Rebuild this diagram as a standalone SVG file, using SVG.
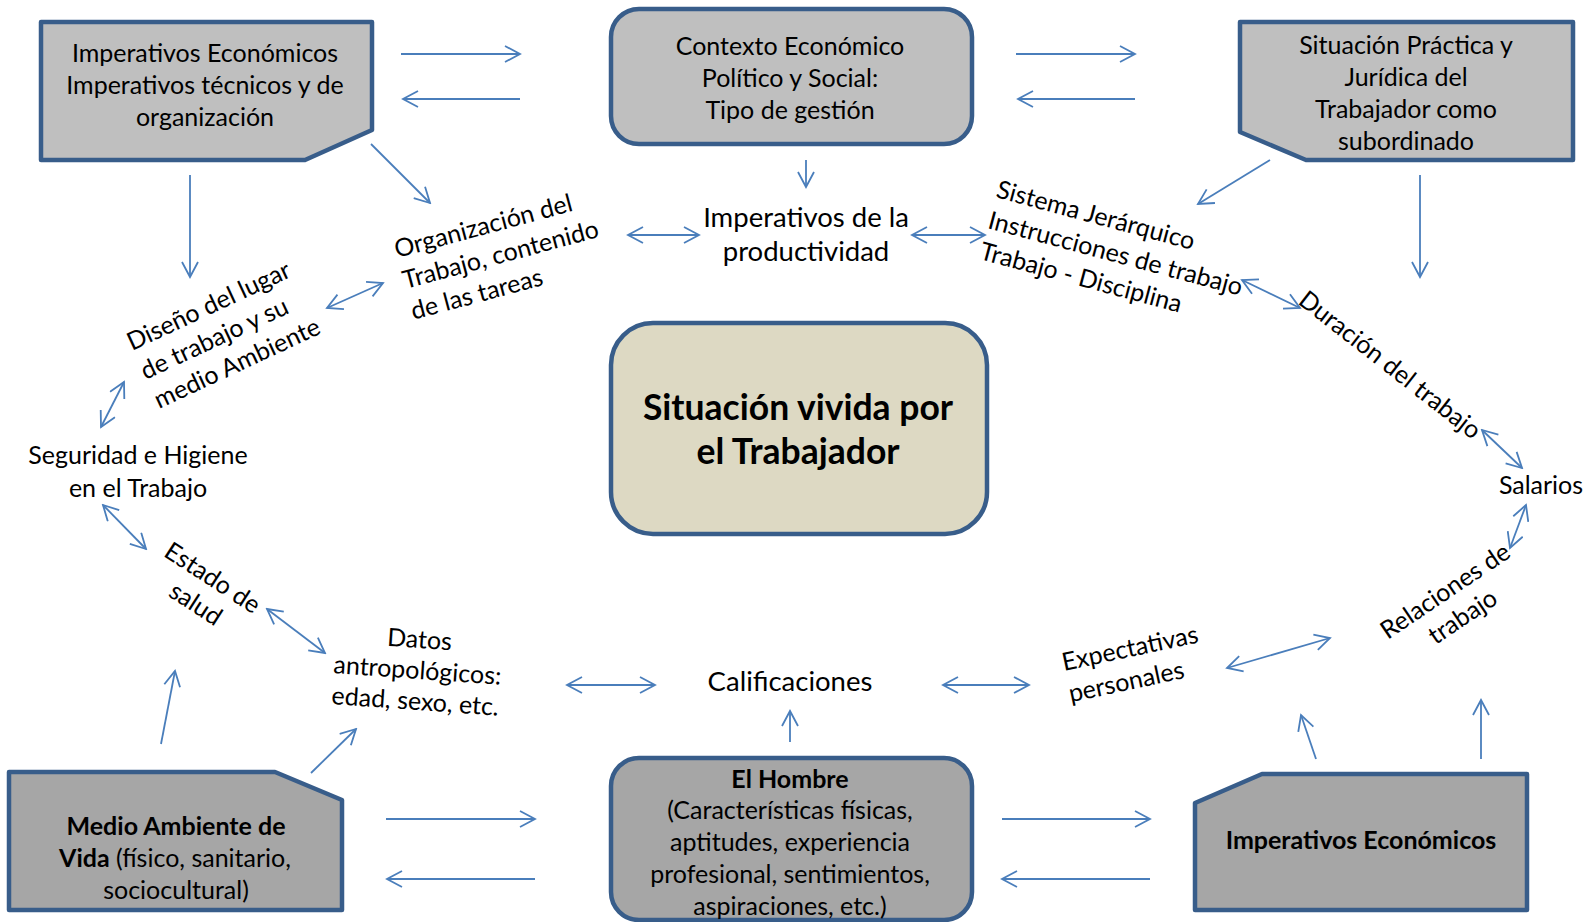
<svg xmlns="http://www.w3.org/2000/svg" width="1593" height="922" viewBox="0 0 1593 922">
<style>
.t{font-family:Lato,"Open Sans","Liberation Sans",sans-serif;font-size:25px;fill:#000}
.m{text-anchor:middle}
.b{font-weight:bold}
.l{font-size:27.5px}
.box1{fill:#bfbfbf;stroke:#385d8a;stroke-width:4.5;stroke-linejoin:round}
.box2{fill:#a6a6a6;stroke:#385d8a;stroke-width:4.5;stroke-linejoin:round}
.boxc{fill:#ddd9c3;stroke:#385d8a;stroke-width:4.5}
.c line{stroke:#4a7ebb;stroke-width:1.8;fill:none;marker-end:url(#ah)}
.c line.d{marker-start:url(#ah)}
</style>
<defs>
<marker id="ah" viewBox="0 0 18 18" refX="16" refY="9" markerWidth="18" markerHeight="18" markerUnits="userSpaceOnUse" orient="auto-start-reverse">
<path d="M1,1 L16,9 L1,17" fill="none" stroke="#4a7ebb" stroke-width="1.8"/>
</marker>
</defs>
<rect width="1593" height="922" fill="#fff"/>

<g id="n-imp-tec">
<path class="box1" d="M41,22 H372 V130 L305,160 H41 Z"/>
<text class="t m" x="205" y="62">Imperativos Económicos</text>
<text class="t m" x="205" y="94">Imperativos técnicos y de</text>
<text class="t m" x="205" y="126">organización</text>
</g>

<g id="n-contexto">
<rect class="box1" x="611" y="9" width="361" height="135" rx="28"/>
<text class="t m" x="790" y="55">Contexto Económico</text>
<text class="t m" x="790" y="87">Político y Social:</text>
<text class="t m" x="790" y="119">Tipo de gestión</text>
</g>

<g id="n-situacion-practica">
<path class="box1" d="M1240,22 H1573 V160 H1306 L1240,132 Z"/>
<text class="t m" x="1406" y="54">Situación Práctica y</text>
<text class="t m" x="1406" y="86">Jurídica del</text>
<text class="t m" x="1406" y="118">Trabajador como</text>
<text class="t m" x="1406" y="150">subordinado</text>
</g>

<g id="n-productividad">
<text class="t m l" x="806" y="227">Imperativos de la</text>
<text class="t m l" x="806" y="261">productividad</text>
</g>

<g id="n-organizacion" transform="translate(397,258) rotate(-15)">
<text class="t" x="0" y="0">Organización del</text>
<text class="t" x="0" y="32">Trabajo, contenido</text>
<text class="t" x="0" y="64">de las tareas</text>
</g>

<g id="n-diseno" transform="translate(132,351) rotate(-25)">
<text class="t" x="0" y="0">Diseño del lugar</text>
<text class="t" x="0" y="32">de trabajo y su</text>
<text class="t" x="0" y="64">medio Ambiente</text>
</g>

<g id="n-sistema" transform="translate(995,197) rotate(15)">
<text class="t" x="0" y="0">Sistema Jerárquico</text>
<text class="t" x="0" y="32">Instrucciones de trabajo</text>
<text class="t" x="0" y="64">Trabajo - Disciplina</text>
</g>

<g id="n-duracion" transform="translate(1297,303) rotate(38)">
<text class="t" x="0" y="0">Duración del trabajo</text>
</g>

<g id="n-seguridad">
<text class="t m" x="138" y="464">Seguridad e Higiene</text>
<text class="t m" x="138" y="497">en el Trabajo</text>
</g>

<g id="n-central">
<rect class="boxc" x="611" y="323" width="376" height="211" rx="42"/>
<text class="t m b" style="font-size:35.5px" x="798" y="420">Situación vivida por</text>
<text class="t m b" style="font-size:35.5px" x="798" y="464">el Trabajador</text>
</g>

<g id="n-salarios">
<text class="t m" x="1541" y="494">Salarios</text>
</g>

<g id="n-estado" transform="translate(208,585) rotate(33)">
<text class="t m" x="0" y="0">Estado de</text>
<text class="t m" x="0" y="31">salud</text>
</g>

<g id="n-datos" transform="translate(419,648) rotate(4)">
<text class="t m" x="0" y="0">Datos</text>
<text class="t m" x="0" y="31">antropológicos:</text>
<text class="t m" x="0" y="62">edad, sexo, etc.</text>
</g>

<g id="n-calificaciones">
<text class="t m l" x="790" y="691">Calificaciones</text>
</g>

<g id="n-expectativas" transform="translate(1064,671) rotate(-12)">
<text class="t" x="0" y="0">Expectativas</text>
<text class="t" x="0" y="32">personales</text>
</g>

<g id="n-relaciones" transform="translate(1450,598) rotate(-34)">
<text class="t m" x="0" y="0">Relaciones de</text>
<text class="t m" x="0" y="31">trabajo</text>
</g>

<g id="n-medio">
<path class="box2" d="M9,772 H275 L342,800 V910 H9 Z"/>
<text class="t m" x="176" y="835"><tspan class="b">Medio Ambiente de</tspan></text>
<text class="t m" x="175" y="867"><tspan class="b">Vida</tspan> (físico, sanitario,</text>
<text class="t m" x="176" y="899">sociocultural)</text>
</g>

<g id="n-hombre">
<rect class="box2" x="611" y="758" width="361" height="162" rx="28"/>
<text class="t m b" x="790" y="788">El Hombre</text>
<text class="t m" x="790" y="819">(Características físicas,</text>
<text class="t m" x="790" y="851">aptitudes, experiencia</text>
<text class="t m" x="790" y="883">profesional, sentimientos,</text>
<text class="t m" x="790" y="915">aspiraciones, etc.)</text>
</g>

<g id="n-imp-eco">
<path class="box2" d="M1262,774 H1527 V910 H1195 V803 Z"/>
<text class="t m b" x="1361" y="849">Imperativos Económicos</text>
</g>

<g id="connectors" class="c">
<line x1="401" y1="54" x2="520" y2="54"/>
<line x1="520" y1="99" x2="403" y2="99"/>
<line x1="1016" y1="54" x2="1135" y2="54"/>
<line x1="1135" y1="99" x2="1018" y2="99"/>
<line x1="806" y1="160" x2="806" y2="187"/>
<line class="d" x1="628" y1="235" x2="699" y2="235"/>
<line class="d" x1="912" y1="235" x2="985" y2="235"/>
<line x1="190" y1="175" x2="190" y2="277"/>
<line x1="371" y1="144" x2="430" y2="203"/>
<line x1="1270" y1="160" x2="1198" y2="204"/>
<line x1="1420" y1="175" x2="1420" y2="277"/>
<line class="d" x1="327" y1="308" x2="383" y2="283"/>
<line class="d" x1="101" y1="427" x2="124" y2="382"/>
<line class="d" x1="103" y1="505" x2="146" y2="549"/>
<line class="d" x1="267" y1="609" x2="325" y2="653"/>
<line x1="161" y1="744" x2="175" y2="671"/>
<line x1="311" y1="773" x2="356" y2="729"/>
<line class="d" x1="567" y1="685" x2="655" y2="685"/>
<line class="d" x1="943" y1="685" x2="1029" y2="685"/>
<line x1="790" y1="742" x2="790" y2="711"/>
<line class="d" x1="1227" y1="668" x2="1330" y2="638"/>
<line x1="1316" y1="759" x2="1301" y2="715"/>
<line x1="1481" y1="759" x2="1481" y2="700"/>
<line class="d" x1="1510" y1="548" x2="1526" y2="505"/>
<line class="d" x1="1482" y1="430" x2="1522" y2="468"/>
<line class="d" x1="1242" y1="280" x2="1300" y2="308"/>
<line x1="386" y1="819" x2="535" y2="819"/>
<line x1="535" y1="879" x2="387" y2="879"/>
<line x1="1002" y1="819" x2="1150" y2="819"/>
<line x1="1150" y1="879" x2="1002" y2="879"/>
</g>
</svg>
